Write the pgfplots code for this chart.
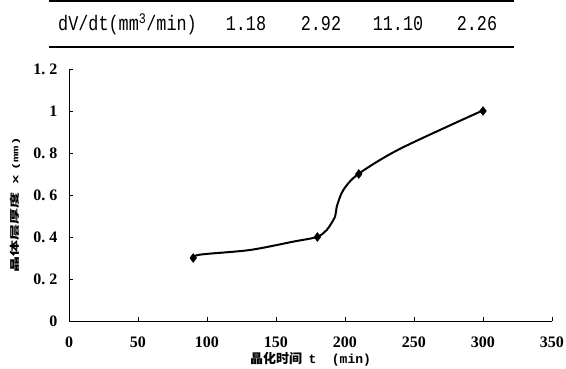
\documentclass[border=0pt]{standalone}
\usepackage{pgfplots}
\pgfplotsset{compat=1.18}
\usepackage{fontspec}
\setmainfont{Liberation Serif}
\setmonofont{Liberation Mono}
\newfontfamily\cjk{Noto Sans CJK SC}
\newfontfamily\tabfont[FakeStretch=0.8]{Liberation Mono}
\begin{document}
\begin{tikzpicture}[x=1pt,y=1pt]
\useasboundingbox (0,0) rectangle (566,369);
% table
\draw[line width=2.4pt] (49,368) -- (514,368);
\draw[line width=2.4pt] (49,322) -- (514,322);
\node[anchor=base west,inner sep=0pt,font=\tabfont\fontsize{21}{21}\selectfont] at (58,338) {dV/dt(mm\textsuperscript{3}/min)};
\node[anchor=base,font=\tabfont\fontsize{21}{21}\selectfont] at (246,338) {1.18};
\node[anchor=base,font=\tabfont\fontsize{21}{21}\selectfont] at (321,338) {2.92};
\node[anchor=base,font=\tabfont\fontsize{21}{21}\selectfont] at (398,338) {11.10};
\node[anchor=base,font=\tabfont\fontsize{21}{21}\selectfont] at (477,338) {2.26};
\begin{axis}[
  at={(69pt,48pt)}, anchor=origin,
  scale only axis, width=483pt, height=252pt,
  xmin=0, xmax=350, ymin=0, ymax=1.2,
  axis x line*=bottom, axis y line*=left,
  axis line style={line width=0.6pt, -},
  xtick={0,50,...,350}, ytick={0,0.2,0.4,0.6,0.8,1,1.2},
  yticklabels={0,{0.\hspace{4pt}2},{0.\hspace{4pt}4},{0.\hspace{4pt}6},{0.\hspace{4pt}8},1,{1.\hspace{4pt}2}},
  tick align=inside, major tick length=4pt,
  tick style={line width=0.6pt, black},
  /pgf/number format/assume math mode=true,
  ticklabel style={font=\bfseries\fontsize{16}{16}\selectfont},
  yticklabel style={xshift=-8pt},
  xticklabel style={yshift=-12pt},
  xlabel={{\cjk\bfseries 晶化时间}\ \ \texttt{\bfseries t\ \ (min)}},
  ylabel={{\cjk\bfseries 晶体层厚度}\ \ \texttt{\bfseries x}\ {\fontsize{14}{14}\selectfont\texttt{\bfseries(mm)}}},
  xlabel style={font=\fontsize{13}{13}\selectfont, yshift=2pt},
  ylabel style={font=\fontsize{16}{16}\selectfont, yscale=0.6, yshift=13pt, xshift=-10pt},
  clip=false,
]
\addplot[black, line width=2pt, smooth, tension=0.5, no marks] coordinates {
 (89.6,0.298) (95,0.316) (131,0.338) (162.6,0.378) (179.5,0.40) (186.7,0.433)
 (192.8,0.497) (194,0.544) (198.8,0.624) (209.7,0.70) (239.9,0.82) (299,1.0)};
\addplot[only marks, mark=diamond*, mark size=4.5pt, black] coordinates {
 (90,0.3) (180,0.4) (210,0.7) (300,1.0)};
\end{axis}
\end{tikzpicture}
\end{document}
